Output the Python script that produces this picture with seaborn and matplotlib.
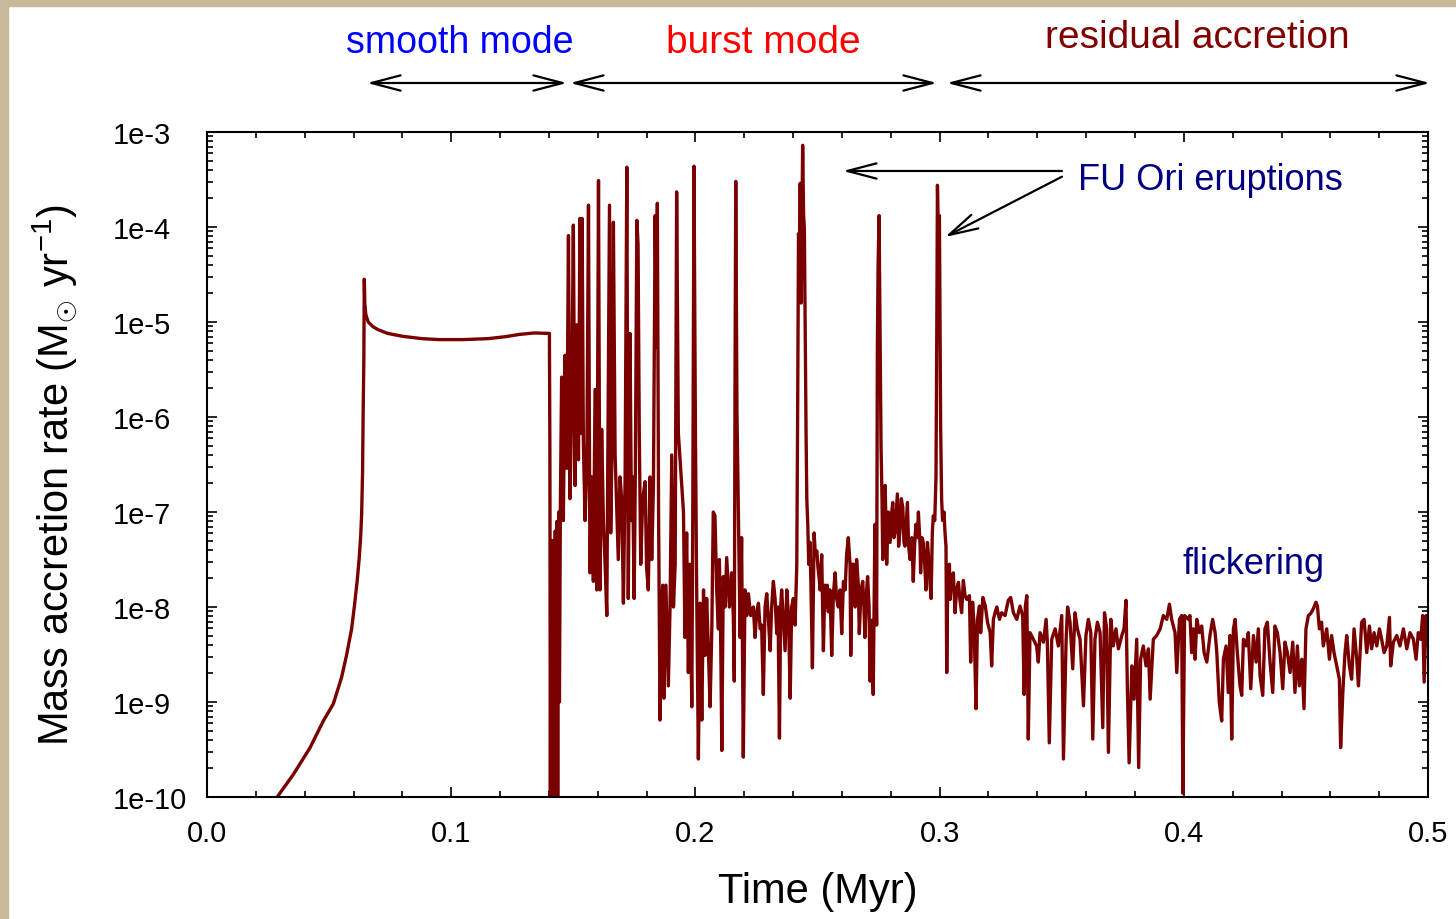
import numpy as np
import pandas as pd
import matplotlib
matplotlib.use("Agg")
import matplotlib.pyplot as plt
import seaborn as sns
from matplotlib.patches import Rectangle
from matplotlib.ticker import LogLocator, MultipleLocator, FuncFormatter, NullFormatter

# smooth mode: time (Myr) and log10 of mass accretion rate (Msun/yr)
smooth_t = [0.0290, 0.0354, 0.0422, 0.0476, 0.0517, 0.0551, 0.0571, 0.0592, 0.0603, 0.0615,
            0.0623, 0.0629, 0.0633, 0.0635, 0.0637, 0.0639, 0.0642, 0.0644, 0.0646, 0.0650,
            0.0660, 0.0680, 0.0700, 0.0740, 0.0800, 0.0880, 0.0950, 0.1050, 0.1150, 0.1220,
            0.1280, 0.1340, 0.1399]
smooth_log = [-9.99, -9.76, -9.48, -9.20, -9.02, -8.74, -8.51, -8.23, -8.00, -7.72,
              -7.49, -7.26, -7.03, -6.80, -6.56, -6.01, -5.41, -4.55, -4.80, -4.92,
              -5.00, -5.05, -5.08, -5.12, -5.15, -5.175, -5.185, -5.185, -5.175, -5.155,
              -5.13, -5.115, -5.12]

# burst mode
burst_t = [0.1402, 0.1404, 0.1406, 0.1408, 0.1411, 0.1414, 0.1417, 0.1420, 0.1423, 0.1426,
           0.1429, 0.1432, 0.1436, 0.1440, 0.1443, 0.1447,
           0.1452, 0.1459, 0.1466, 0.1473, 0.1480, 0.1486, 0.1493, 0.1500, 0.1507, 0.1514,
           0.1521, 0.1527, 0.1532, 0.1536, 0.1541, 0.1548, 0.1555, 0.1562, 0.1568, 0.1575,
           0.1582, 0.1589, 0.1596, 0.1603, 0.1609, 0.1616, 0.1623, 0.1630, 0.1637, 0.1642,
           0.1648, 0.1653, 0.1659, 0.1664, 0.1671, 0.1678, 0.1684, 0.1691, 0.1698, 0.1705,
           0.1712, 0.1719, 0.1725, 0.1732, 0.1738, 0.1743, 0.1749, 0.1754, 0.1760, 0.1765,
           0.1770, 0.1776, 0.1784, 0.1794, 0.1800, 0.1807, 0.1814, 0.1821, 0.1828, 0.1835,
           0.1840, 0.1844, 0.1849, 0.1855, 0.1862, 0.1866, 0.1871, 0.1879, 0.1889, 0.1896,
           0.1903, 0.1910, 0.1917, 0.1923, 0.1930,
           0.1951, 0.1957, 0.1964, 0.1971, 0.1978, 0.1985, 0.1989, 0.1994, 0.2000, 0.2005,
           0.2012, 0.2019, 0.2026, 0.2033, 0.2039, 0.2046, 0.2053, 0.2060, 0.2067, 0.2073,
           0.2080, 0.2087, 0.2094, 0.2098, 0.2103, 0.2108, 0.2114, 0.2121, 0.2128, 0.2139,
           0.2148, 0.2155, 0.2159, 0.2162, 0.2165, 0.2170, 0.2176, 0.2183, 0.2189, 0.2196,
           0.2203, 0.2210, 0.2217, 0.2226, 0.2237, 0.2244, 0.2251, 0.2258, 0.2265, 0.2271,
           0.2278, 0.2285, 0.2292, 0.2299, 0.2306, 0.2312, 0.2319, 0.2326, 0.2333, 0.2338,
           0.2344, 0.2349, 0.2353, 0.2360, 0.2367, 0.2374, 0.2381, 0.2388, 0.2394, 0.2401,
           0.2408, 0.2415, 0.2419, 0.2422, 0.2426, 0.2429, 0.2433, 0.2437, 0.2439, 0.2443,
           0.2446, 0.2450, 0.2453, 0.2456, 0.2460, 0.2464, 0.2469, 0.2473, 0.2479, 0.2486,
           0.2491, 0.2497, 0.2502, 0.2508,
           0.2510, 0.2517, 0.2524, 0.2530, 0.2535, 0.2540, 0.2544, 0.2551, 0.2558, 0.2565,
           0.2572, 0.2578, 0.2585, 0.2592, 0.2599, 0.2606, 0.2613, 0.2619, 0.2626, 0.2633,
           0.2636, 0.2641, 0.2647, 0.2654, 0.2660, 0.2667, 0.2671, 0.2678, 0.2685, 0.2690,
           0.2694, 0.2701, 0.2705, 0.2711, 0.2715, 0.2722, 0.2728, 0.2735, 0.2742, 0.2745,
           0.2748, 0.2752, 0.2756, 0.2760, 0.2764, 0.2767, 0.2772, 0.2777, 0.2783, 0.2790,
           0.2797, 0.2804, 0.2808, 0.2813, 0.2817, 0.2827, 0.2832, 0.2838, 0.2843, 0.2849,
           0.2854, 0.2858, 0.2868, 0.2873, 0.2879, 0.2886, 0.2892, 0.2898, 0.2903, 0.2909,
           0.2913, 0.2920, 0.2922, 0.2928, 0.2933, 0.2939, 0.2944, 0.2950, 0.2954, 0.2961,
           0.2965, 0.2970, 0.2974, 0.2980, 0.2985, 0.2988, 0.2991, 0.2995, 0.2999, 0.3002,
           0.3004, 0.3008, 0.3012, 0.3018, 0.3022, 0.3026, 0.3029, 0.3033, 0.3040]
burst_log = [-5.12, -6.40, -10.5, -7.40, -10.5, -7.30, -10.5, -7.35, -10.5, -7.20,
             -10.5, -7.10, -10.3, -7.00, -9.00, -6.90,
             -5.58, -7.09, -5.35, -6.54, -4.09, -6.86, -5.99, -3.98, -6.72, -5.03,
             -6.45, -3.91, -6.17, -3.91, -6.26, -7.09, -6.54, -3.77, -7.64, -6.63,
             -7.73, -5.71, -7.82, -3.51, -7.82, -6.13, -7.09, -7.55, -8.09, -6.17,
             -3.77, -7.22, -6.17, -3.95, -6.40, -7.00, -7.50, -6.63, -6.86, -7.96,
             -6.63, -3.37, -7.91, -5.12, -7.09, -6.63, -7.91, -6.54, -3.93, -4.18,
             -6.17, -7.55, -6.86, -6.68, -7.59, -7.82, -6.63, -7.50, -6.72, -3.88,
             -5.26, -3.75, -7.00, -9.19, -8.00, -7.77, -8.96, -7.77, -8.83, -8.00,
             -6.40, -8.00, -7.55, -3.63, -6.17,
             -7.00, -8.32, -7.22, -8.69, -7.55, -9.05, -7.09, -3.36, -6.17, -7.82,
             -9.60, -7.96, -9.19, -7.82, -8.51, -7.91, -8.46, -9.05, -8.23, -7.00,
             -7.04, -7.82, -8.23, -7.50, -8.23, -9.51, -7.68, -8.00, -7.48, -8.00,
             -7.64, -8.09, -8.78, -5.71, -3.52, -5.94, -7.04, -8.32, -7.27, -9.58,
             -7.82, -8.09, -7.86, -8.09, -8.00, -8.32, -8.05, -7.96, -8.23, -8.19,
             -8.92, -8.00, -7.86, -8.14, -8.46, -8.00, -7.73, -7.91, -8.28, -8.00,
             -9.38, -8.00, -7.82, -8.14, -8.46, -7.82, -8.09, -8.96, -8.00, -7.91,
             -8.19, -7.55, -5.71, -4.07, -4.34, -3.54, -4.80, -3.65, -3.14, -3.88,
             -4.02, -5.26, -6.17, -6.86, -7.13, -7.55, -7.32, -7.77, -8.64, -7.22,
             -7.45, -7.41, -7.59, -7.73,
             -7.82, -7.45, -8.46, -7.77, -8.00, -7.77, -8.05, -7.82, -8.51, -7.86,
             -7.64, -7.91, -8.00, -7.82, -8.28, -7.73, -7.82, -7.45, -7.27, -7.55,
             -8.51, -7.55, -7.55, -8.00, -7.50, -7.77, -8.28, -7.82, -7.73, -8.00,
             -8.32, -7.82, -7.68, -8.00, -8.78, -8.14, -8.92, -7.13, -8.19, -5.26,
             -4.39, -3.88, -5.03, -6.31, -6.86, -7.50, -7.09, -6.72, -7.55, -7.00,
             -7.32, -7.00, -6.90, -7.27, -7.22, -6.81, -7.36, -7.18, -6.86, -6.95,
             -7.32, -7.36, -6.90, -7.36, -7.50, -7.27, -7.73, -7.32, -7.13, -7.27,
             -7.00, -7.36, -7.64, -7.27, -7.32, -7.55, -7.82, -7.32, -7.45, -7.77,
             -7.91, -7.22, -7.04, -7.09, -6.63, -5.26, -3.56, -4.11, -3.88, -5.26,
             -6.08, -6.86, -7.09, -7.00, -7.22, -7.36, -8.69, -7.77, -7.55]

# residual accretion
resid_t = [0.3043, 0.3049, 0.3056, 0.3063, 0.3070, 0.3077, 0.3083, 0.3090, 0.3097, 0.3104,
           0.3111, 0.3122, 0.3127, 0.3135, 0.3141, 0.3149, 0.3155, 0.3163, 0.3168, 0.3177,
           0.3187, 0.3196, 0.3207, 0.3213, 0.3220, 0.3227, 0.3234, 0.3245, 0.3254, 0.3268,
           0.3281, 0.3291, 0.3302, 0.3316, 0.3329, 0.3340, 0.3346, 0.3351, 0.3357, 0.3363,
           0.3370, 0.3384, 0.3397, 0.3404, 0.3411, 0.3425, 0.3436, 0.3441, 0.3449, 0.3459,
           0.3473, 0.3486, 0.3500, 0.3507, 0.3518, 0.3524, 0.3534, 0.3545, 0.3554, 0.3564,
           0.3575, 0.3589, 0.3599, 0.3609, 0.3619, 0.3627, 0.3636, 0.3646, 0.3657, 0.3668,
           0.3675, 0.3684, 0.3691, 0.3701, 0.3711, 0.3722, 0.3732, 0.3746, 0.3755, 0.3763,
           0.3769, 0.3776, 0.3787, 0.3796, 0.3807, 0.3815, 0.3823, 0.3834, 0.3845, 0.3855,
           0.3862, 0.3875, 0.3889, 0.3903, 0.3916, 0.3930, 0.3941, 0.3950, 0.3964, 0.3971,
           0.3982, 0.3991, 0.3996, 0.4003,
           0.4019, 0.4025, 0.4032, 0.4039, 0.4046, 0.4053, 0.4064, 0.4073, 0.4083, 0.4094,
           0.4107, 0.4118, 0.4128, 0.4135, 0.4145, 0.4155, 0.4162, 0.4173, 0.4182, 0.4189,
           0.4196, 0.4203, 0.4210, 0.4219, 0.4230, 0.4237, 0.4244, 0.4255, 0.4264, 0.4274,
           0.4285, 0.4296, 0.4305, 0.4312, 0.4323, 0.4332, 0.4342, 0.4353, 0.4364, 0.4373,
           0.4383, 0.4394, 0.4405, 0.4414, 0.4424, 0.4435, 0.4446, 0.4455, 0.4465, 0.4473,
           0.4483, 0.4492, 0.4500, 0.4510, 0.4519, 0.4530, 0.4541, 0.4547, 0.4555, 0.4564,
           0.4571, 0.4585, 0.4596, 0.4605, 0.4615, 0.4626, 0.4637, 0.4642, 0.4651, 0.4660,
           0.4667, 0.4678, 0.4687, 0.4697, 0.4708, 0.4715, 0.4728, 0.4738, 0.4749, 0.4760,
           0.4769, 0.4779, 0.4790, 0.4801, 0.4810, 0.4820, 0.4831, 0.4842, 0.4847, 0.4858,
           0.4872, 0.4885, 0.4899, 0.4913, 0.4926, 0.4940, 0.4951, 0.4960, 0.4970, 0.4978,
           0.4984, 0.4992, 0.5001]
resid_log = [-7.92, -7.71, -7.64, -8.06, -7.81, -7.74, -7.92, -8.06, -7.72, -7.88,
             -7.92, -7.88, -8.58, -7.95, -8.20, -9.07, -8.13, -7.99, -8.27, -7.90,
             -7.99, -8.16, -8.27, -8.62, -8.13, -8.06, -8.00, -8.13, -8.06, -8.09,
             -7.93, -7.90, -8.06, -8.13, -7.99, -8.09, -8.92, -7.99, -7.88, -9.39,
             -8.27, -8.34, -8.41, -8.58, -8.27, -8.37, -8.13, -8.37, -9.43, -8.34,
             -8.23, -8.41, -8.09, -9.60, -8.34, -8.00, -8.16, -8.65, -8.06, -8.23,
             -8.34, -9.04, -8.30, -8.13, -8.27, -9.39, -8.34, -8.16, -8.27, -9.27,
             -8.06, -8.23, -9.53, -8.13, -8.41, -8.23, -8.44, -8.30, -8.23, -7.93,
             -8.90, -9.64, -8.62, -8.97, -8.34, -9.69, -8.55, -8.41, -8.62, -8.44,
             -8.97, -8.34, -8.30, -8.23, -8.09, -8.13, -7.97, -8.13, -8.27, -8.69,
             -8.13, -8.09, -9.96, -8.09,
             -8.13, -8.09, -8.48, -8.23, -8.55, -8.13, -8.27, -8.20, -8.48, -8.58,
             -8.30, -8.13, -8.27, -8.48, -9.00, -9.20, -8.55, -8.41, -8.90, -8.30,
             -9.39, -8.23, -8.13, -8.48, -8.83, -8.93, -8.34, -8.41, -8.27, -8.86,
             -8.30, -8.58, -8.23, -8.72, -8.93, -8.23, -8.16, -8.58, -8.90, -8.20,
             -8.27, -8.48, -8.86, -8.37, -8.48, -8.69, -8.37, -8.90, -8.41, -8.83,
             -8.55, -9.07, -8.23, -8.09, -8.07, -8.02, -7.95, -7.99, -8.23, -8.16,
             -8.41, -8.23, -8.55, -8.30, -8.48, -8.62, -8.76, -9.48, -8.90, -8.48,
             -8.30, -8.62, -8.76, -8.23, -8.55, -8.83, -8.16, -8.13, -8.48, -8.20,
             -8.44, -8.27, -8.41, -8.23, -8.34, -8.48, -8.41, -8.11, -8.62, -8.37,
             -8.30, -8.41, -8.23, -8.44, -8.27, -8.34, -8.55, -8.27, -8.34, -8.09,
             -8.79, -8.09, -8.41]

LINE_COLOR = "#7a0000"
FRAME_COLOR = "#c8b99a"

df = pd.DataFrame({
    "time": smooth_t + burst_t + resid_t,
    "rate": 10.0 ** np.array(smooth_log + burst_log + resid_log),
})

sns.set_style("ticks")
plt.rcParams["font.family"] = ["Liberation Sans", "DejaVu Sans"]
plt.rcParams["mathtext.fontset"] = "custom"
plt.rcParams["mathtext.rm"] = "Liberation Sans"
plt.rcParams["mathtext.it"] = "Liberation Sans:italic"
plt.rcParams["xtick.direction"] = "in"
plt.rcParams["ytick.direction"] = "in"
plt.rcParams["text.color"] = "black"
plt.rcParams["axes.labelcolor"] = "black"

fig = plt.figure(figsize=(14.56, 9.2), dpi=100)
ax = fig.add_axes([0.1422, 0.1326, 0.8386, 0.7228])

sns.lineplot(data=df, x="time", y="rate", sort=False, estimator=None,
             color=LINE_COLOR, linewidth=2.4, ax=ax)

ax.set_yscale("log")
ax.set_xlim(0, 0.5)
ax.set_ylim(1e-10, 1e-3)

ax.xaxis.set_major_locator(MultipleLocator(0.1))
ax.xaxis.set_minor_locator(MultipleLocator(0.02))
ax.xaxis.set_major_formatter(FuncFormatter(lambda v, p: f"{v:.1f}"))
ax.set_yticks([10.0 ** k for k in range(-10, -2)])
ax.yaxis.set_minor_locator(LogLocator(base=10, subs=np.arange(2, 10)))
ax.yaxis.set_minor_formatter(NullFormatter())
ax.yaxis.set_major_formatter(FuncFormatter(lambda v, p: f"1e{int(round(np.log10(v)))}"))

for s in ax.spines.values():
    s.set_linewidth(1.5)
    s.set_color("black")
ax.tick_params(which="both", top=True, right=True, width=1.2, colors="black",
               labelsize=21)
ax.tick_params(which="major", length=7)
ax.tick_params(which="minor", length=4)
ax.tick_params(axis="x", pad=16)
ax.tick_params(axis="y", pad=68)
for lab in ax.get_yticklabels():
    lab.set_horizontalalignment("left")

ax.set_xlabel("Time (Myr)", fontsize=30)
ax.xaxis.set_label_coords(0.5, -0.112)
ax.set_ylabel(r"Mass accretion rate (M$_{\odot}$ yr$^{-1}$)", fontsize=30)
ax.yaxis.set_label_coords(-0.105, 0.486)

# phase labels and arrows above the plot
fig.text(0.316, 0.9535, "smooth mode", color="#0000ff", fontsize=27, ha="center", va="center")
fig.text(0.524, 0.9535, "burst mode", color="#ff0000", fontsize=28, ha="center", va="center")
fig.text(0.822, 0.959, "residual accretion", color="#800000", fontsize=28, ha="center", va="center")
head = dict(arrowstyle="<->,head_length=2.1,head_width=0.55", mutation_scale=10,
            lw=1.6, color="black", shrinkA=0, shrinkB=0)
for x0, x1 in [(0.2521, 0.3894), (0.3915, 0.6435), (0.6504, 0.9821)]:
    ax.annotate("", xy=(x1, 0.9087), xytext=(x0, 0.9087), xycoords="figure fraction",
                textcoords="figure fraction", arrowprops=head, annotation_clip=False)

one_head = dict(arrowstyle="->,head_length=2.1,head_width=0.55", mutation_scale=10,
                lw=1.6, color="black", shrinkA=0, shrinkB=0)
ax.annotate("", xy=(0.2604, 10 ** -3.41), xytext=(0.3501, 10 ** -3.41), arrowprops=one_head)
ax.annotate("", xy=(0.3022, 10 ** -4.105), xytext=(0.3501, 10 ** -3.47), arrowprops=one_head)
ax.text(0.3567, 10 ** -3.495, "FU Ori eruptions", color="#000080", fontsize=26,
        ha="left", va="center")
ax.text(0.3993, 10 ** -7.547, "flickering", color="#000080", fontsize=26,
        ha="left", va="center")

# tan frame on the left and top edges
fig.add_artist(Rectangle((0, 0), 8 / 1456, 1, transform=fig.transFigure,
                         color=FRAME_COLOR, zorder=10))
fig.add_artist(Rectangle((0, 1 - 7 / 920), 1, 7 / 920, transform=fig.transFigure,
                         color=FRAME_COLOR, zorder=10))

fig.savefig("out.png", dpi=100)
